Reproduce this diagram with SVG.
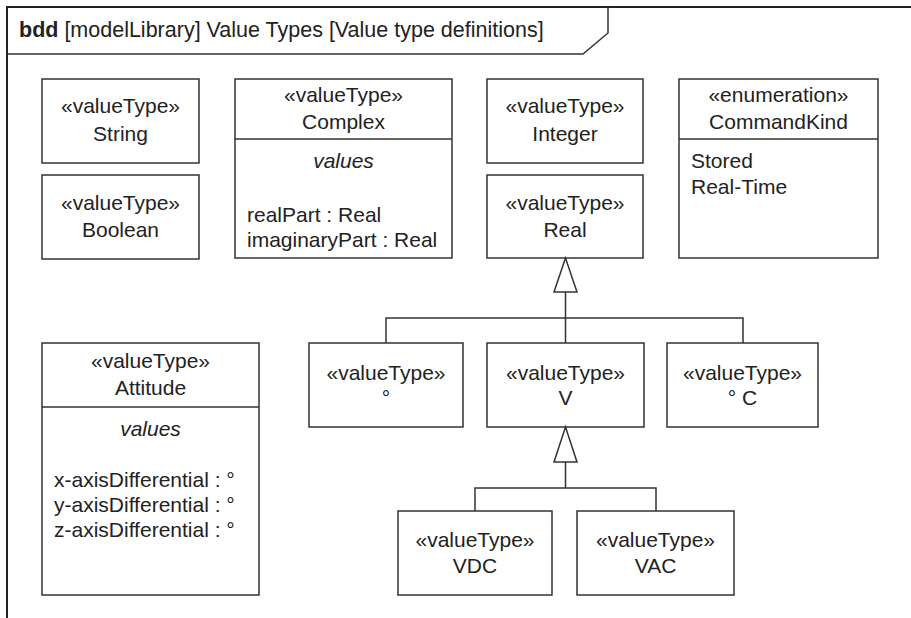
<svg xmlns="http://www.w3.org/2000/svg" width="911" height="618" viewBox="0 0 911 618">
<style>
.box{fill:#fff;stroke:#333;stroke-width:1.5}
.div{stroke:#333;stroke-width:1.5}
.t{font-family:"Liberation Sans",Arial,sans-serif;font-size:21px;fill:#222}
.h{font-size:21.5px}
.c{text-anchor:middle}
.i{font-style:italic}
.ln{fill:none;stroke:#333;stroke-width:1.5}
.tri{fill:#fff;stroke:#333;stroke-width:1.5}
</style>
<rect width="911" height="618" fill="#fff"/>
<g id="frame">
<path d="M7 618 V7 H911" fill="none" stroke="#222" stroke-width="2"/>
<path d="M7 54 H583 L608 33 V7" fill="none" stroke="#333" stroke-width="1.5"/>
<text class="t h" x="19" y="37"><tspan font-weight="bold">bdd</tspan> [modelLibrary] Value Types [Value type definitions]</text>
</g>
<g id="String">
<rect class="box" x="42" y="79" width="157" height="84"/>
<text class="t c" x="120.5" y="113">«valueType»</text>
<text class="t c" x="120.5" y="141">String</text>
</g>
<g id="Boolean">
<rect class="box" x="42" y="175" width="157" height="84"/>
<text class="t c" x="120.5" y="210">«valueType»</text>
<text class="t c" x="120.5" y="237">Boolean</text>
</g>
<g id="Complex">
<rect class="box" x="235" y="79" width="217" height="179"/>
<line class="div" x1="235" y1="139" x2="452" y2="139"/>
<text class="t c" x="343.5" y="102">«valueType»</text>
<text class="t c" x="343.5" y="129">Complex</text>
<text class="t c i" x="343.5" y="168">values</text>
<text class="t" x="247" y="222">realPart : Real</text>
<text class="t" x="247" y="247">imaginaryPart : Real</text>
</g>
<g id="Integer">
<rect class="box" x="487" y="79" width="156" height="84"/>
<text class="t c" x="565" y="113">«valueType»</text>
<text class="t c" x="565" y="141">Integer</text>
</g>
<g id="Real">
<rect class="box" x="487" y="175" width="156" height="83"/>
<text class="t c" x="565" y="210">«valueType»</text>
<text class="t c" x="565" y="237">Real</text>
</g>
<g id="CommandKind">
<rect class="box" x="679" y="79" width="199" height="179"/>
<line class="div" x1="679" y1="139" x2="878" y2="139"/>
<text class="t c" x="778.5" y="102">«enumeration»</text>
<text class="t c" x="778.5" y="129">CommandKind</text>
<text class="t" x="691" y="168">Stored</text>
<text class="t" x="691" y="194">Real-Time</text>
</g>
<g id="Attitude">
<rect class="box" x="42" y="343" width="217" height="252"/>
<line class="div" x1="42" y1="407" x2="259" y2="407"/>
<text class="t c" x="150.5" y="368">«valueType»</text>
<text class="t c" x="150.5" y="395">Attitude</text>
<text class="t c i" x="150.5" y="436">values</text>
<text class="t" x="54" y="487">x-axisDifferential : °</text>
<text class="t" x="54" y="512">y-axisDifferential : °</text>
<text class="t" x="54" y="537">z-axisDifferential : °</text>
</g>
<g id="Degree">
<rect class="box" x="309" y="343" width="154" height="84"/>
<text class="t c" x="386" y="380">«valueType»</text>
<text class="t c" x="386" y="405">°</text>
</g>
<g id="V">
<rect class="box" x="487" y="343" width="157" height="84"/>
<text class="t c" x="565.5" y="380">«valueType»</text>
<text class="t c" x="565.5" y="405">V</text>
</g>
<g id="DegreeC">
<rect class="box" x="667" y="343" width="151" height="84"/>
<text class="t c" x="742.5" y="380">«valueType»</text>
<text class="t c" x="742.5" y="405">° C</text>
</g>
<g id="VDC">
<rect class="box" x="398" y="511" width="154" height="84"/>
<text class="t c" x="475" y="547">«valueType»</text>
<text class="t c" x="475" y="573">VDC</text>
</g>
<g id="VAC">
<rect class="box" x="577" y="511" width="157" height="84"/>
<text class="t c" x="655.5" y="547">«valueType»</text>
<text class="t c" x="655.5" y="573">VAC</text>
</g>
<g id="connectors">
<path class="ln" d="M565.5 292 V343 M386 343 V318 H743 V343"/>
<polygon class="tri" points="565.5,258 554,292 577,292"/>
<path class="ln" d="M565.5 462 V488 M475 511 V488 H656 V511"/>
<polygon class="tri" points="565.5,427 554,462 577,462"/>
</g>
</svg>
